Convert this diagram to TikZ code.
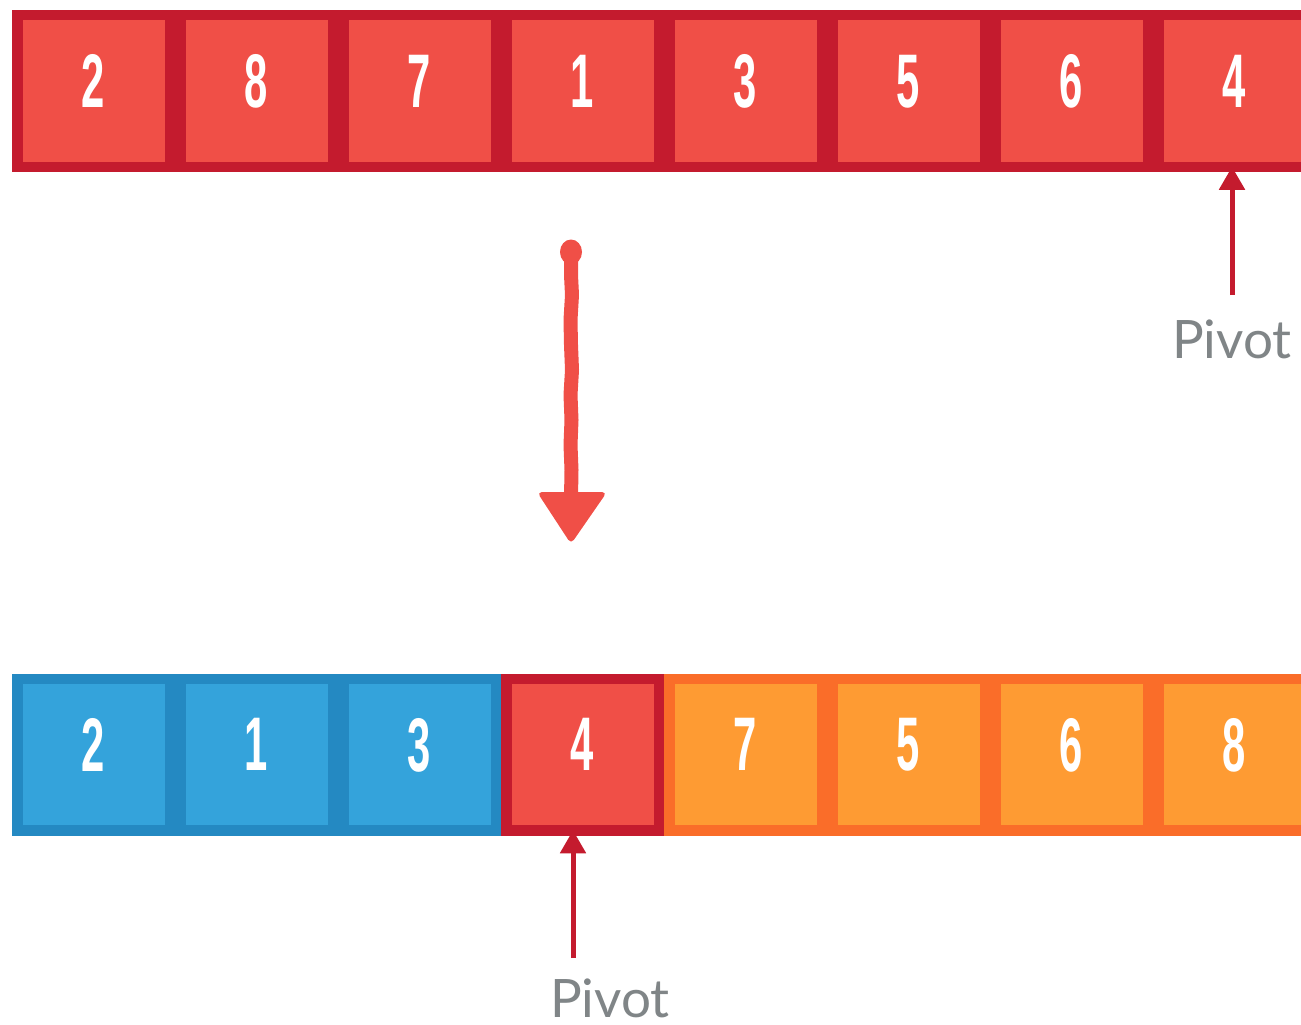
\documentclass[tikz,border=0pt]{standalone}
\usepackage{fontspec}
\usetikzlibrary{arrows.meta,calc}
\newfontfamily\numfont[FakeStretch=0.55]{Liberation Sans}
\newfontfamily\pivfont{Lato}
\definecolor{rfill}{HTML}{F04F47}
\definecolor{rline}{HTML}{C41B2E}
\definecolor{bfill}{HTML}{34A3DB}
\definecolor{bline}{HTML}{2489C2}
\definecolor{ofill}{HTML}{FE9B33}
\definecolor{oline}{HTML}{FA6D29}
\definecolor{pivgray}{HTML}{808587}
\tikzset{
  cellbox/.style 2 args={draw=#2, fill=#1, line width=10.5pt, minimum width=152.5pt, minimum height=151.5pt, inner sep=0pt, outer sep=0pt},
  redcell/.style={cellbox={rfill}{rline}},
  bluecell/.style={cellbox={bfill}{bline}},
  orangecell/.style={cellbox={ofill}{oline}},
  digit/.style={text=white, font=\numfont\bfseries\fontsize{76}{76}\selectfont, inner sep=0pt, text depth=0pt, anchor=center},
  pivlabel/.style={text=pivgray, font=\pivfont\fontsize{53}{53}\selectfont, inner sep=0pt, text depth=0pt, anchor=base},
  pivarrow/.style={draw=rline, line width=5pt, -{Triangle[width=25pt,length=23pt]}},
  handline/.style={draw=rfill, line width=14pt, line cap=round, line join=round},
}
\begin{document}
\begin{tikzpicture}[x=1pt,y=-1pt]
\useasboundingbox (0,0) rectangle (1301,1025);
\clip (0,0) rectangle (1301,1025);
% top row
\foreach \v [count=\i] in {2,8,7,1,3,5,6,4}{
  \node[redcell] (t\i) at ({93.5+163*(\i-1)},91) {};
  \node[digit] (td\i) at ([yshift=10pt]t\i.center) {\v};
}
% bottom row
\foreach \v [count=\i] in {2,1,3}{
  \node[bluecell] (b\i) at ({93.5+163*(\i-1)},754.5) {};
  \node[digit] (bd\i) at ([yshift=10pt]b\i.center) {\v};
}
\node[redcell] (b4) at ({93.5+163*3},754.5) {};
\node[digit] (bd4) at ([yshift=10pt]b4.center) {4};
\foreach \v [count=\j from 5] in {7,5,6,8}{
  \node[orangecell] (b\j) at ({93.5+163*(\j-1)},754.5) {};
  \node[digit] (bd\j) at ([yshift=10pt]b\j.center) {\v};
}
% pivot labels and arrows
\node[pivlabel] (p1) at (1232,358) {Pivot};
\coordinate (pt1) at (1232,295);
\draw[pivarrow] (pt1) -- (t8.south -| pt1);
\node[pivlabel] (p2) at (610,1017) {Pivot};
\coordinate (pt2) at (573,958);
\draw[pivarrow] (pt2) -- (b4.south -| pt2);
% hand drawn arrow
\coordinate (hs) at (571,252);
\coordinate (he) at (571,498);
\fill[rfill] (hs) ellipse (11pt and 12.5pt);
\draw[handline] (hs) -- (571,275) -- (572,295) -- (570.5,320) -- (571,345) -- (572,370) -- (570.5,395) -- (571.5,420) -- (570.5,445) -- (571.5,470) -- (he);
\fill[rfill, rounded corners=5pt] ($(he)+(-34,-6)$) -- ($(he)+(36,-6)$) -- ($(he)+(0,46)$) -- cycle;
\end{tikzpicture}
\end{document}
